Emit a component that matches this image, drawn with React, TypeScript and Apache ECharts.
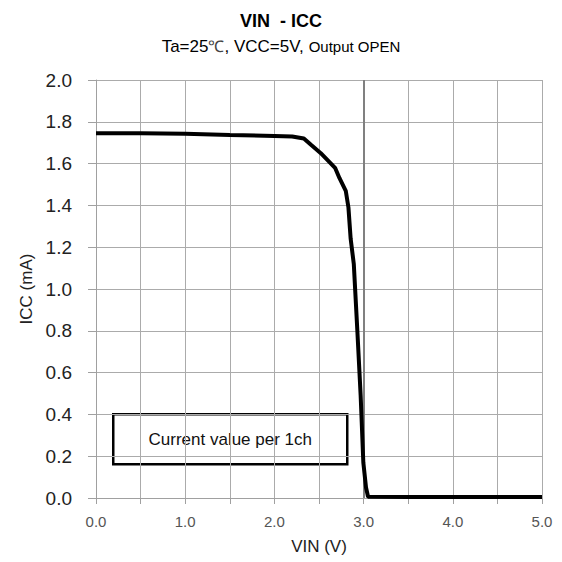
import React, { useEffect, useRef } from "react";
import * as echarts from "echarts";

const vin = [0, 0.5, 1.0, 1.5, 2.0, 2.2, 2.33, 2.41, 2.52, 2.68, 2.73, 2.8, 2.83, 2.855, 2.89, 2.93, 2.967, 2.997, 3.027, 3.05, 3.5, 4.0, 4.5, 5.0];
const icc = [1.745, 1.745, 1.743, 1.737, 1.732, 1.73, 1.72, 1.69, 1.65, 1.58, 1.53, 1.47, 1.39, 1.24, 1.12, 0.8, 0.49, 0.17, 0.05, 0.006, 0.005, 0.005, 0.005, 0.005];
const markX = [3.0];

const FONT = "'Liberation Sans', Arial, sans-serif";

export default function App() {
  const ref = useRef<HTMLDivElement>(null);
  useEffect(() => {
    if (!ref.current) return;
    const chart = echarts.init(ref.current, null, { renderer: "svg" });
    const data = vin.map((x, i) => [x, icc[i]]);
    chart.setOption({
      animation: false,
      backgroundColor: "#ffffff",
      textStyle: { fontFamily: FONT },
      title: [
        {
          text: "VIN  - ICC",
          left: "center",
          top: 7,
          textStyle: { fontFamily: FONT, fontSize: 18, fontWeight: "bold", color: "#000" },
        },
        {
          text: "{a|Ta=25}{b|℃}{a|, VCC=5V,} {c|Output OPEN}",
          left: "center",
          top: 32,
          textStyle: {
            fontWeight: "normal",
            rich: {
              a: { fontFamily: FONT, fontSize: 17, fontWeight: "normal", color: "#000" },
              b: { fontFamily: FONT, fontSize: 16, fontWeight: "normal", color: "#444" },
              c: { fontFamily: FONT, fontSize: 15, fontWeight: "normal", color: "#000" },
            },
          },
        },
      ],
      grid: { left: 96, right: 20, top: 80, bottom: 64, containLabel: false },
      xAxis: {
        type: "value",
        min: 0,
        max: 5,
        interval: 0.5,
        name: "VIN (V)",
        nameLocation: "middle",
        nameGap: 40,
        nameTextStyle: { fontFamily: FONT, fontSize: 17, color: "#222" },
        axisLine: { show: true, lineStyle: { color: "#a0a0a0", width: 1 } },
        axisTick: { show: true, length: 6, lineStyle: { color: "#a0a0a0" } },
        splitLine: { show: true, lineStyle: { color: "#ababab", width: 1 } },
        axisLabel: {
          margin: 16,
          fontFamily: FONT,
          fontSize: 15,
          color: "#555",
          formatter: (v: number) => (Math.abs(v - Math.round(v)) < 1e-6 ? v.toFixed(1) : ""),
        },
      },
      yAxis: {
        type: "value",
        min: 0,
        max: 2,
        interval: 0.2,
        name: "ICC (mA)",
        nameLocation: "middle",
        nameGap: 60,
        nameTextStyle: { fontFamily: FONT, fontSize: 17, color: "#222" },
        axisLine: { show: true, lineStyle: { color: "#a0a0a0", width: 1 } },
        axisTick: { show: true, length: 8, lineStyle: { color: "#a0a0a0" } },
        splitLine: { show: true, lineStyle: { color: "#ababab", width: 1 } },
        axisLabel: {
          margin: 24,
          fontFamily: FONT,
          fontSize: 19,
          color: "#222",
          formatter: (v: number) => v.toFixed(1),
        },
      },
      series: [
        {
          type: "line",
          data,
          showSymbol: false,
          symbol: "none",
          lineStyle: { color: "#000", width: 4 },
          markLine: {
            silent: true,
            symbol: "none",
            label: { show: false },
            lineStyle: { color: "#808080", width: 2, type: "solid" },
            data: markX.map((x) => ({ xAxis: x })),
          },
          z: 5,
        },
      ],
      graphic: [
        {
          type: "group",
          left: 112,
          top: 413,
          z: 10,
          children: [
            {
              type: "rect",
              shape: { x: 1, y: 1, width: 234, height: 50 },
              style: { fill: "#fff", stroke: "#000", lineWidth: 2.5 },
            },
            {
              type: "text",
              x: 118,
              y: 26,
              style: {
                text: "Current value per 1ch",
                fontFamily: FONT,
                fontSize: 17,
                fill: "#111",
                align: "center",
                verticalAlign: "middle",
              },
            },
          ],
        },
      ],
    });
    return () => chart.dispose();
  }, []);
  return <div ref={ref} style={{ position: "fixed", left: 0, top: 0, width: 562, height: 562 }} />;
}
